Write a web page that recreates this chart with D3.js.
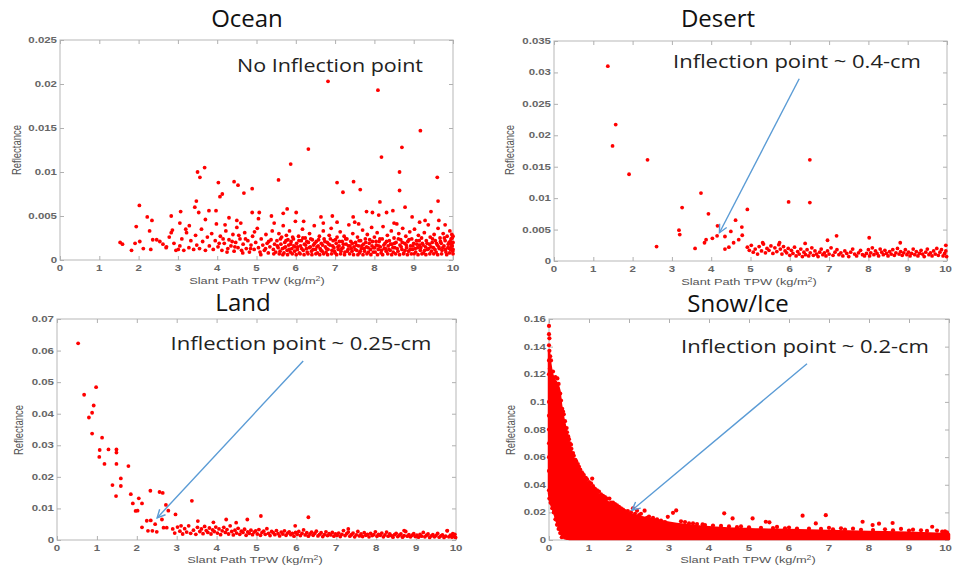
<!DOCTYPE html>
<html>
<head>
<meta charset="utf-8">
<script src="https://cdn.jsdelivr.net/npm/d3@7"></script>
<style>
html, body { margin: 0; padding: 0; background: #fff; }
svg { display: block; }
</style>
</head>
<body>
<svg id="chart" width="953" height="569"></svg>
<script>
// ---------- data: [slant path TPW (kg/m2), reflectance] ----------
const oceanPoints = [
  [6.82,.0203],[8.09,.0193],[9.17,.0147],[6.32,.0126],[8.70,.0128],[8.18,.0117],[5.87,.0109],[8.64,.0100],
  [9.60,.0094],[3.68,.0105],[3.50,.0100],[3.56,.0094],[4.03,.0088],[4.43,.0089],[4.53,.0085],[4.89,.0081],
  [4.68,.0076],[4.13,.0075],[4.07,.0072],[5.56,.0091],[7.05,.0088],[7.47,.0089],[7.20,.0077],[7.64,.0080],
  [8.64,.0079],[9.62,.0067],[8.14,.0066],[8.78,.0060],[2.02,.0062],[3.47,.0067],[3.43,.0060],[3.53,.0054],
  [3.79,.0056],[3.97,.0056],[2.83,.0050],[3.07,.0055],[4.89,.0054],[5.07,.0054],[5.38,.0050],[5.78,.0058],
  [5.68,.0053],[6.01,.0054],[6.64,.0049],[6.93,.0050],[7.80,.0055],[7.95,.0054],[8.11,.0051],[8.31,.0054],
  [8.47,.0056],[8.96,.0049],[9.44,.0055],[9.29,.0045],[9.64,.0045],[7.46,.0049],[2.22,.0049],[2.34,.0045],
  [1.94,.0038],[2.28,.0033],[2.83,.0031],[2.86,.0034],[3.05,.0042],[3.29,.0039],[1.53,.0020],[1.59,.0018],
  [1.82,.0011],[1.91,.0019],[2.03,.0021],[2.12,.0013],[2.31,.0012],[2.36,.0023],[2.46,.0023],[2.54,.0021],
  [2.62,.0018],[2.71,.0015],[3.01,.0012],[4.50,.0045],[5.05,.0047],[5.45,.0042],[6.20,.0044],[6.70,.0042],
  [7.05,.0043],[7.60,.0041],[8.50,.0042],[9.15,.0043],[9.80,.0040],[4.30,.0048],[3.70,.0046],[3.20,.0035],
  [2.70,.0014],[2.78,.0026],[2.90,.0019],[2.95,.0011],
  [3.05,.0016],[3.10,.0024],[3.15,.0011],[3.22,.0031],[3.28,.0014],[3.33,.0022],[3.40,.0012],[3.45,.0028],[3.48,.0017],
  [3.55,.0013],[3.60,.0035],[3.63,.0021],[3.70,.0011],[3.75,.0026],[3.80,.0016],[3.86,.0030],[3.90,.0012],[3.95,.0022],[3.98,.0041],
  [4.02,.0015],[4.08,.0027],[4.12,.0011],[4.18,.0019],[4.22,.0033],[4.27,.0013],[4.30,.0023],[4.35,.0016],[4.40,.0029],[4.43,.0010],[4.47,.0020],[4.50,.0037],
  [4.53,.0014],[4.58,.0024],[4.62,.0011],[4.66,.0018],[4.70,.0031],[4.74,.0013],[4.78,.0022],[4.82,.0009],[4.86,.0017],[4.90,.0027],[4.94,.0012],[4.98,.0020],
  [4.05,.0019],[4.15,.0024],[4.25,.0009],[4.38,.0021],[4.45,.0015],[4.55,.0028],[4.65,.0008],[4.72,.0024],[4.85,.0013],[4.95,.0032],[4.20,.0040],[4.60,.0042],
  [5.02,.0036],[5.05,.0014],[5.09,.0009],[5.12,.0024],[5.16,.0017],[5.20,.0011],[5.24,.0029],[5.27,.0019],[5.30,.0008],[5.34,.0015],[5.37,.0023],[5.40,.0033],[5.43,.0012],[5.46,.0018],[5.49,.0009],
  [5.52,.0022],[5.55,.0014],[5.57,.0030],[5.60,.0010],[5.62,.0018],[5.64,.0026],[5.66,.0013],[5.68,.0039],[5.70,.0008],[5.72,.0020],[5.74,.0015],[5.76,.0028],[5.78,.0011],[5.80,.0023],[5.82,.0017],[5.84,.0033],[5.86,.0009],[5.88,.0021],[5.90,.0013],[5.92,.0026],[5.95,.0016],[5.97,.0010],[5.99,.0044],
  [6.02,.0019],[6.04,.0012],[6.07,.0027],[6.09,.0008],[6.12,.0016],[6.14,.0022],[6.17,.0035],[6.19,.0011],[6.22,.0018],[6.24,.0025],[6.27,.0013],[6.29,.0009],[6.32,.0020],[6.35,.0030],[6.37,.0015],[6.40,.0010],[6.42,.0023],[6.45,.0017],[6.47,.0039],[6.50,.0012],
  [6.52,.0021],[6.55,.0008],[6.57,.0016],[6.60,.0027],[6.62,.0013],[6.65,.0019],[6.67,.0010],[6.70,.0033],[6.72,.0024],[6.75,.0015],[6.77,.0009],[6.80,.0020],[6.82,.0012],[6.85,.0028],[6.87,.0017],[6.90,.0036],[6.92,.0011],[6.95,.0022],[6.97,.0014],
  [7.00,.0008],[7.03,.0019],[7.05,.0026],[7.08,.0012],[7.10,.0016],[7.13,.0032],[7.15,.0010],[7.18,.0021],[7.20,.0014],[7.23,.0027],[7.25,.0009],[7.28,.0018],[7.30,.0024],[7.33,.0012],[7.35,.0040],[7.38,.0016],[7.40,.0021],[7.43,.0010],[7.45,.0030],[7.48,.0015],
  [7.50,.0043],[7.52,.0020],[7.55,.0011],[7.57,.0026],[7.60,.0016],[7.62,.0008],[7.65,.0022],[7.67,.0013],[7.70,.0034],[7.72,.0018],[7.75,.0010],[7.77,.0024],[7.80,.0015],[7.82,.0029],[7.85,.0009],[7.87,.0019],[7.90,.0012],[7.93,.0037],[7.95,.0021],[7.98,.0014],
  [8.00,.0026],[8.02,.0009],[8.05,.0017],[8.07,.0031],[8.10,.0012],[8.12,.0021],[8.15,.0015],[8.17,.0008],[8.20,.0024],[8.22,.0038],[8.25,.0013],[8.27,.0019],[8.30,.0010],[8.33,.0028],[8.35,.0016],[8.38,.0022],[8.40,.0011],[8.43,.0033],[8.45,.0018],[8.48,.0009],
  [8.50,.0025],[8.52,.0014],[8.55,.0020],[8.57,.0041],[8.60,.0010],[8.62,.0030],[8.65,.0017],[8.67,.0023],[8.70,.0012],[8.72,.0036],[8.75,.0008],[8.77,.0019],[8.80,.0027],[8.82,.0014],[8.85,.0021],[8.87,.0010],[8.90,.0032],[8.92,.0016],[8.95,.0024],[8.97,.0012],
  [9.00,.0019],[9.02,.0035],[9.05,.0009],[9.07,.0022],[9.10,.0014],[9.12,.0028],[9.15,.0017],[9.17,.0011],[9.20,.0025],[9.22,.0019],[9.25,.0008],[9.27,.0031],[9.30,.0015],[9.32,.0022],[9.35,.0012],[9.37,.0040],[9.40,.0018],[9.42,.0026],[9.45,.0010],[9.47,.0020],
  [9.50,.0014],[9.52,.0029],[9.55,.0022],[9.57,.0009],[9.60,.0017],[9.62,.0036],[9.65,.0013],[9.67,.0025],[9.70,.0019],[9.72,.0011],[9.75,.0030],[9.77,.0016],[9.80,.0022],[9.82,.0009],[9.85,.0027],[9.87,.0014],[9.90,.0020],[9.92,.0033],[9.94,.0012],[9.96,.0018],[9.98,.0025],[9.99,.0010],[9.97,.0029],[9.95,.0015],[9.93,.0021],[9.91,.0008],
  [5.11,.0006],[5.23,.0013],[5.31,.0021],[5.44,.0007],[5.53,.0016],[5.58,.0007],[5.61,.0024],[5.67,.0006],[5.71,.0014],[5.75,.0022],[5.79,.0006],[5.83,.0012],[5.87,.0018],[5.91,.0007],[5.94,.0024],[5.98,.0015],
  [6.01,.0006],[6.05,.0015],[6.08,.0022],[6.11,.0007],[6.15,.0013],[6.18,.0025],[6.21,.0006],[6.25,.0017],[6.28,.0021],[6.31,.0007],[6.34,.0014],[6.38,.0024],[6.41,.0006],[6.44,.0012],[6.48,.0019],
  [6.51,.0007],[6.54,.0015],[6.58,.0023],[6.61,.0006],[6.64,.0011],[6.68,.0017],[6.71,.0007],[6.74,.0021],[6.78,.0013],[6.81,.0006],[6.84,.0018],[6.88,.0024],[6.91,.0007],[6.94,.0016],[6.98,.0010],
  [7.01,.0023],[7.04,.0006],[7.07,.0015],[7.11,.0021],[7.14,.0007],[7.17,.0013],[7.21,.0018],[7.24,.0006],[7.27,.0024],[7.31,.0010],[7.34,.0016],[7.37,.0007],[7.41,.0013],[7.44,.0019],[7.47,.0006],
  [7.51,.0012],[7.54,.0017],[7.58,.0006],[7.61,.0022],[7.64,.0010],[7.68,.0016],[7.71,.0006],[7.74,.0013],[7.78,.0020],[7.81,.0007],[7.84,.0014],[7.88,.0023],[7.91,.0006],[7.94,.0016],[7.97,.0009],
  [8.01,.0014],[8.04,.0021],[8.08,.0006],[8.11,.0016],[8.14,.0024],[8.18,.0011],[8.21,.0006],[8.24,.0017],[8.28,.0013],[8.31,.0021],[8.34,.0007],[8.37,.0012],[8.41,.0018],[8.44,.0006],[8.47,.0014],
  [8.51,.0019],[8.54,.0007],[8.58,.0013],[8.61,.0024],[8.64,.0006],[8.68,.0015],[8.71,.0020],[8.74,.0007],[8.78,.0011],[8.81,.0017],[8.84,.0006],[8.88,.0023],[8.91,.0012],[8.94,.0007],[8.98,.0016],
  [9.01,.0007],[9.04,.0013],[9.08,.0018],[9.11,.0006],[9.14,.0022],[9.18,.0014],[9.21,.0007],[9.24,.0017],[9.28,.0011],[9.31,.0006],[9.34,.0019],[9.38,.0013],[9.41,.0007],[9.44,.0015],[9.48,.0024],
  [9.51,.0007],[9.54,.0012],[9.58,.0019],[9.61,.0006],[9.64,.0015],[9.68,.0021],[9.71,.0007],[9.74,.0014],[9.78,.0025],[9.81,.0012],[9.84,.0006],[9.88,.0018],[9.91,.0013],[9.95,.0024],[9.98,.0016],
  [10.0,.0012],[10.0,.0020],[10.0,.0027],[10.0,.0007]
];

const desertPoints = [
  [1.37,.0310],[1.57,.0217],[1.49,.0183],[2.38,.0161],[1.91,.0138],[6.51,.0161],[3.74,.0108],[5.97,.0094],
  [6.51,.0093],[3.26,.0085],[4.92,.0082],[3.93,.0075],[4.62,.0065],[4.16,.0056],[4.78,.0054],[3.18,.0049],
  [3.20,.0042],[4.50,.0047],[4.35,.0039],[4.79,.0041],[4.15,.0040],[4.03,.0036],[3.87,.0034],[3.83,.0029],
  [4.70,.0034],[4.57,.0029],[4.45,.0022],[4.35,.0019],[3.59,.0020],[2.61,.0023],[6.96,.0033],[7.19,.0040],
  [8.02,.0037],[8.81,.0029],[5.74,.0029],[6.39,.0028],[5.31,.0029],[9.97,.0025],
  [4.92,.0022],[4.97,.0017],[5.02,.0025],[5.07,.0014],[5.12,.0019],[5.18,.0011],[5.22,.0023],[5.28,.0016],[5.33,.0027],[5.38,.0013],
  [5.42,.0020],[5.47,.0017],[5.52,.0024],[5.57,.0012],[5.62,.0021],[5.67,.0015],[5.72,.0026],[5.76,.0019],[5.80,.0011],[5.84,.0023],
  [5.88,.0016],[5.92,.0013],[5.96,.0020],[6.00,.0009],[6.04,.0017],[6.08,.0012],[6.12,.0022],[6.16,.0008],[6.20,.0015],[6.24,.0011],
  [6.28,.0019],[6.32,.0007],[6.36,.0014],[6.40,.0010],[6.44,.0018],[6.48,.0008],[6.52,.0013],[6.56,.0021],[6.60,.0009],[6.64,.0016],
  [6.68,.0011],[6.72,.0007],[6.76,.0014],[6.80,.0019],[6.84,.0010],[6.88,.0013],[6.92,.0008],[6.96,.0016],[7.00,.0011],[7.05,.0021],
  [7.10,.0009],[7.15,.0014],[7.20,.0018],[7.25,.0010],[7.30,.0013],[7.35,.0008],[7.40,.0016],[7.45,.0012],[7.50,.0007],[7.55,.0014],
  [7.60,.0019],[7.65,.0011],[7.70,.0008],[7.75,.0013],[7.80,.0017],[7.85,.0010],[7.90,.0008],[7.95,.0012],[8.00,.0018],[8.03,.0008],
  [8.06,.0013],[8.10,.0021],[8.14,.0010],[8.18,.0016],[8.22,.0012],[8.26,.0008],[8.30,.0019],[8.34,.0014],[8.38,.0010],[8.42,.0017],
  [8.46,.0012],[8.50,.0008],[8.54,.0015],[8.58,.0011],[8.62,.0018],[8.66,.0009],[8.70,.0013],[8.74,.0020],[8.78,.0011],[8.82,.0015],
  [8.86,.0009],[8.90,.0013],[8.94,.0018],[8.98,.0010],[9.02,.0014],[9.06,.0008],[9.10,.0012],[9.14,.0019],[9.18,.0010],[9.22,.0015],
  [9.26,.0008],[9.30,.0012],[9.34,.0017],[9.38,.0011],[9.42,.0007],[9.46,.0014],[9.50,.0019],[9.54,.0010],[9.58,.0013],[9.62,.0008],
  [9.66,.0016],[9.70,.0011],[9.74,.0020],[9.78,.0009],[9.82,.0014],[9.86,.0018],[9.90,.0008],[9.94,.0012],[9.97,.0016],[9.99,.0007]
];

const landPoints = [
  [0.53,.0623],[0.98,.0484],[0.68,.0460],[0.92,.0426],[0.88,.0403],[0.80,.0388],[0.88,.0337],[1.13,.0324],
  [1.07,.0285],[1.29,.0287],[1.49,.0287],[1.49,.0277],[1.06,.0263],[1.19,.0241],[1.49,.0241],[1.79,.0234],
  [1.60,.0195],[1.60,.0171],[1.39,.0174],[1.48,.0139],[1.85,.0145],[1.90,.0116],[2.05,.0132],[2.13,.0116],
  [2.02,.0093],[1.97,.0092],[2.34,.0156],[2.57,.0152],[2.65,.0149],[3.38,.0124],[2.73,.0111],[2.79,.0093],
  [2.97,.0081],[2.63,.0065],[2.25,.0061],[2.35,.0062],[2.13,.0040],[2.46,.0050],[2.28,.0029],[2.39,.0029],
  [2.50,.0026],[2.67,.0039],[2.75,.0039],[3.11,.0045],[6.30,.0072],[5.11,.0076],[4.77,.0065],[4.24,.0065],
  [3.53,.0060],[3.92,.0056],[4.49,.0055],[5.97,.0045],[7.30,.0035],[8.70,.0030],[9.78,.0030],
  [2.90,.0035],[2.95,.0022],[3.02,.0041],[3.08,.0028],[3.15,.0019],[3.20,.0036],[3.25,.0025],[3.30,.0045],[3.35,.0021],[3.42,.0031],
  [3.48,.0018],[3.52,.0040],[3.58,.0027],[3.62,.0035],[3.66,.0020],[3.70,.0043],[3.74,.0030],[3.78,.0024],[3.82,.0038],[3.86,.0019],
  [3.90,.0032],[3.94,.0027],[3.98,.0041],
  [4.02,.0022],[4.06,.0035],[4.10,.0017],[4.14,.0029],[4.18,.0040],[4.22,.0024],[4.26,.0033],[4.30,.0019],[4.34,.0045],[4.38,.0027],
  [4.42,.0016],[4.46,.0031],[4.50,.0022],[4.54,.0037],[4.58,.0018],[4.62,.0028],[4.66,.0024],[4.70,.0034],[4.74,.0015],[4.78,.0026],
  [4.82,.0021],[4.86,.0031],[4.90,.0017],[4.94,.0025],[4.98,.0029],
  [5.02,.0019],[5.06,.0033],[5.10,.0015],[5.14,.0024],[5.18,.0028],[5.22,.0018],[5.26,.0036],[5.30,.0021],[5.34,.0014],[5.38,.0027],
  [5.42,.0023],[5.46,.0017],[5.50,.0030],[5.54,.0020],[5.58,.0013],[5.62,.0025],[5.66,.0019],[5.70,.0029],[5.74,.0015],[5.78,.0022],
  [5.82,.0026],[5.86,.0017],[5.90,.0021],[5.94,.0012],[5.98,.0024],
  [6.02,.0018],[6.06,.0027],[6.10,.0014],[6.14,.0021],[6.18,.0032],[6.22,.0016],[6.26,.0023],[6.30,.0012],[6.34,.0019],[6.38,.0025],
  [6.42,.0015],[6.46,.0021],[6.50,.0028],[6.54,.0013],[6.58,.0018],[6.62,.0023],[6.66,.0011],[6.70,.0017],[6.74,.0026],[6.78,.0014],
  [6.82,.0020],[6.86,.0016],[6.90,.0024],[6.94,.0012],[6.98,.0019],
  [7.02,.0015],[7.06,.0022],[7.10,.0011],[7.14,.0018],[7.18,.0030],[7.22,.0014],[7.26,.0020],[7.30,.0025],[7.34,.0012],[7.38,.0017],
  [7.42,.0022],[7.46,.0010],[7.50,.0016],[7.54,.0027],[7.58,.0013],[7.62,.0019],[7.66,.0011],[7.70,.0023],[7.74,.0015],[7.78,.0018],
  [7.82,.0010],[7.86,.0021],[7.90,.0014],[7.94,.0017],[7.98,.0026],
  [8.02,.0012],[8.06,.0018],[8.10,.0015],[8.14,.0022],[8.18,.0010],[8.22,.0016],[8.26,.0025],[8.30,.0012],[8.34,.0019],[8.38,.0014],
  [8.42,.0009],[8.46,.0017],[8.50,.0021],[8.54,.0011],[8.58,.0015],[8.62,.0019],[8.66,.0009],[8.70,.0014],[8.74,.0027],[8.78,.0012],
  [8.82,.0017],[8.86,.0010],[8.90,.0015],[8.94,.0020],[8.98,.0011],
  [9.02,.0015],[9.06,.0009],[9.10,.0018],[9.14,.0012],[9.18,.0024],[9.22,.0010],[9.26,.0015],[9.30,.0019],[9.34,.0008],[9.38,.0013],
  [9.42,.0017],[9.46,.0010],[9.50,.0014],[9.54,.0021],[9.58,.0009],[9.62,.0013],[9.66,.0016],[9.70,.0008],[9.74,.0012],[9.78,.0029],
  [9.82,.0010],[9.86,.0015],[9.90,.0009],[9.94,.0013],[9.97,.0018],[9.99,.0008],[9.96,.0011],[9.92,.0020]
];

// Snow/Ice: the densest cloud is given by its envelope, the sparser points individually
const snowCoreX      = [0, 0.03, 0.08, 0.14, 0.2, 0.26, 0.3, 0.36, 0.42, 0.5, 0.6, 0.7, 0.8, 0.9, 1.0, 1.2, 1.4, 1.6, 1.8, 2.0, 2.5, 3.0, 4.0, 5.0, 6.0, 7.0, 8.0, 9.0, 10.0];
const snowCoreTop    = [.136, .128, .120, .116, .113, .108, .098, .088, .080, .070, .060, .053, .047, .043, .040, .034, .029, .025, .022, .019, .0155, .0125, .0092, .0078, .0072, .0066, .0058, .0052, .0042];
const snowCoreBottom = [.034, .028, .024, .019, .013, .009, .005, .002, .001, .0008, .0007, .0007, .0007, .0007, .0007, .0007, .0007, .0007, .0007, .0007, .0007, .0007, .0007, .0007, .0007, .0007, .0007, .0007, .0007];
const snowPoints = [
  [0.00,.155],[0.00,.149],[0.01,.146],[0.00,.141],[0.01,.137],[0.03,.133],[0.05,.130],[0.02,.124],[0.10,.122],[0.16,.118],
  [0.21,.117],[0.24,.113],[0.19,.110],[0.28,.106],[0.30,.101],[0.33,.095],[0.37,.091],[0.40,.086],[0.44,.081],[0.48,.075],
  [0.52,.070],[0.56,.066],[0.60,.063],[0.66,.058],[0.72,.055],[0.78,.051],[0.84,.048],[0.87,.047],[0.92,.045],[1.08,.0445],
  [1.00,.042],[1.10,.039],[1.20,.036],[1.30,.033],[1.40,.031],[1.51,.030],[1.60,.027],[1.70,.025],[1.80,.023],[1.90,.021],
  [1.97,.021],[2.10,.0229],[2.20,.0212],[2.39,.0212],[2.30,.019],[2.50,.017],[2.70,.015],[2.97,.0168],[3.10,.0197],[3.18,.0214],
  [3.40,.013],[3.60,.012],[3.84,.0113],[4.10,.0105],[4.38,.0193],[4.59,.0156],[4.80,.0098],[5.09,.0156],[5.42,.0132],[5.51,.0128],
  [5.70,.0095],[6.00,.0090],[6.34,.0176],[6.67,.012],[6.92,.018],[7.00,.0088],[7.30,.0085],[7.60,.0082],[7.84,.0132],[8.09,.0108],
  [8.25,.0118],[8.59,.0123],[8.40,.0078],[8.80,.0080],[9.10,.0075],[9.30,.0070],[9.58,.0096],[9.70,.0068],[9.83,.006],[9.95,.0055],
  [0.00,.036],[0.01,.030],[0.04,.027],[0.08,.023],[0.12,.020],[0.16,.015],[0.20,.011],[0.24,.008],[0.28,.005],[0.32,.002],
  [0.00,.10],[0.00,.09],[0.00,.08],[0.00,.07],[0.00,.06],[0.00,.05],[0.00,.12],[0.00,.13],
  [0.35,.093],[0.45,.078],[0.50,.073],[0.55,.069],[0.62,.061],[0.68,.057],[0.75,.053],[0.82,.049],[0.95,.044],[1.05,.041],
  [1.15,.037],[1.25,.035],[1.35,.032],[1.45,.030],[1.55,.027],[1.65,.026],[1.75,.024],[1.85,.022],[2.05,.020],[2.15,.019],
  [2.25,.018],[2.45,.016],[2.60,.016],[2.80,.014],[2.90,.013],[3.30,.0135],[3.50,.012],[3.70,.0115],[3.90,.0108],[4.30,.0102],
  [4.50,.0098],[4.70,.0093],[5.00,.0092],[5.30,.0088],[5.60,.0087],[5.90,.0085],[6.20,.0083],[6.50,.0082],[6.80,.0080],[7.10,.0078],
  [7.40,.0076],[7.80,.0074],[8.10,.0072],[8.60,.0070],[9.00,.0068],[9.45,.0066],[9.90,.0062]
];

const panelTitles = ["Ocean", "Desert", "Land", "Snow/Ice"];
const panelNotes = ["No Inflection point", "Inflection point ~ 0.4-cm", "Inflection point ~ 0.25-cm", "Inflection point ~ 0.2-cm"];
const xTickValues = [0, 1, 2, 3, 4, 5, 6, 7, 8, 9, 10];
const oceanYTicks  = [0, 0.005, 0.01, 0.015, 0.02, 0.025];
const desertYTicks = [0, 0.005, 0.01, 0.015, 0.02, 0.025, 0.03, 0.035];
const landYTicks   = [0, 0.01, 0.02, 0.03, 0.04, 0.05, 0.06, 0.07];
const snowYTicks   = [0, 0.02, 0.04, 0.06, 0.08, 0.1, 0.12, 0.14, 0.16];
// arrows: [tail, head] in data units
const desertArrow = [[6.24, .0290], [4.21, .0045]];
const landArrow   = [[6.17, .0567], [2.51, .0070]];
const snowArrow   = [[6.45, .1276], [2.075, .0216]];

// ---------- layout ----------
const W = 953;
const svg = d3.select("#chart");
const RED = "#ff0000";
const BLUE = "#5a9bd5";
const STRETCH = 1.35;   // the small axis text is drawn horizontally widened

svg.append("defs").append("marker")
  .attr("id", "arrowHead")
  .attr("viewBox", "-10 -6 12 12")
  .attr("markerWidth", 12).attr("markerHeight", 12)
  .attr("markerUnits", "userSpaceOnUse")
  .attr("orient", "auto")
  .append("path")
  .attr("d", "M-8,-4 L0,0 L-8,4")
  .attr("fill", "none").attr("stroke", BLUE).attr("stroke-width", 1.4);

const panels = [
  { title: panelTitles[0], note: panelNotes[0], pts: oceanPoints,  yTicks: oceanYTicks,  arrow: null,
    x0: 60,  x1: 453, yb: 260, yt: 40,  titleXY: [247, 27], noteXY: [330, 72], noteW: 186, ylabXY: [21, 150], xlabXY: [257, 284] },
  { title: panelTitles[1], note: panelNotes[1], pts: desertPoints, yTicks: desertYTicks, arrow: desertArrow,
    x0: 554, x1: 947, yb: 261, yt: 41,  titleXY: [718, 27], noteXY: [797, 68], noteW: 248, ylabXY: [514, 150], xlabXY: [749, 285] },
  { title: panelTitles[2], note: panelNotes[2], pts: landPoints,   yTicks: landYTicks,   arrow: landArrow,
    x0: 57,  x1: 456, yb: 540, yt: 319, titleXY: [243, 311], noteXY: [301, 350], noteW: 261, ylabXY: [23, 430], xlabXY: [255, 563] },
  { title: panelTitles[3], note: panelNotes[3], pts: snowPoints,   yTicks: snowYTicks,   arrow: snowArrow,
    x0: 549, x1: 949, yb: 540, yt: 319, titleXY: [738, 312], noteXY: [805, 353], noteW: 248, ylabXY: [515, 430], xlabXY: [748, 563], core: true }
];

function stretchedText(g, x, y, anchor, size, fill, txt, rotate) {
  const t = g.append("text")
    .attr("transform", `translate(${x},${y}) scale(${STRETCH},1)` + (rotate ? " rotate(-90)" : ""))
    .attr("text-anchor", anchor)
    .attr("font-family", "Liberation Sans, Arial, sans-serif")
    .attr("font-size", size)
    .attr("fill", fill);
  return t.text(txt);
}

panels.forEach(p => {
  const g = svg.append("g");
  const x = d3.scaleLinear().domain([0, 10]).range([p.x0, p.x1]);
  const y = d3.scaleLinear().domain([0, p.yTicks[p.yTicks.length - 1]]).range([p.yb, p.yt]);

  // frame
  g.append("rect")
    .attr("x", p.x0).attr("y", p.yt)
    .attr("width", p.x1 - p.x0).attr("height", p.yb - p.yt)
    .attr("fill", "#fff").attr("stroke", "#c4c4c4").attr("stroke-width", 1.2);

  // inward ticks on all four sides
  const axStyle = sel => {
    sel.select(".domain").remove();
    sel.selectAll(".tick line").attr("stroke", "#b0b0b0").attr("stroke-width", 1);
  };
  g.append("g").attr("transform", `translate(0,${p.yb})`)
    .call(d3.axisBottom(x).tickValues(xTickValues).tickSizeInner(-4).tickSizeOuter(0).tickFormat(""))
    .call(axStyle);
  g.append("g").attr("transform", `translate(0,${p.yt})`)
    .call(d3.axisTop(x).tickValues(xTickValues).tickSizeInner(-4).tickSizeOuter(0).tickFormat(""))
    .call(axStyle);
  g.append("g").attr("transform", `translate(${p.x0},0)`)
    .call(d3.axisLeft(y).tickValues(p.yTicks).tickSizeInner(-4).tickSizeOuter(0).tickFormat(""))
    .call(axStyle);
  g.append("g").attr("transform", `translate(${p.x1},0)`)
    .call(d3.axisRight(y).tickValues(p.yTicks).tickSizeInner(-4).tickSizeOuter(0).tickFormat(""))
    .call(axStyle);

  // tick labels (kept inside the page at the right edge)
  const lab = g.append("g").attr("font-weight", "bold");
  xTickValues.forEach(v => {
    const t = stretchedText(lab, x(v), p.yb + 10.5, "middle", 8.5, "#666", String(v));
    const half = t.node().getComputedTextLength() * STRETCH / 2;
    if (x(v) + half > W - 1) {
      t.attr("transform", `translate(${W - 1},${p.yb + 10.5}) scale(${STRETCH},1)`).attr("text-anchor", "end");
    }
  });
  p.yTicks.forEach(v => stretchedText(lab, p.x0 - 3, y(v) + 3, "end", 8.5, "#666", String(v)));

  // axis titles
  stretchedText(g, p.ylabXY[0], p.ylabXY[1], "middle", 9.5, "#555", "Reflectance", true);
  const xl = stretchedText(g, p.xlabXY[0], p.xlabXY[1], "middle", 9.5, "#555", "Slant Path TPW (kg/m");
  xl.append("tspan").attr("dy", -3.5).attr("font-size", 6.5).text("2");
  xl.append("tspan").attr("dy", 3.5).text(")");

  // dense cloud (Snow/Ice)
  if (p.core) {
    const core = snowCoreX.map((v, i) => ({ x: v, lo: snowCoreBottom[i], hi: snowCoreTop[i] }));
    g.append("path")
      .datum(core)
      .attr("d", d3.area().x(d => x(d.x)).y0(d => y(d.lo)).y1(d => y(d.hi)).curve(d3.curveMonotoneX))
      .attr("fill", RED).attr("stroke", RED).attr("stroke-width", 2.5).attr("stroke-linejoin", "round");
  }

  // scatter points
  g.append("g").selectAll("circle")
    .data(p.pts).join("circle")
    .attr("cx", d => x(d[0])).attr("cy", d => y(d[1]))
    .attr("r", p.core ? 2.1 : 1.9)
    .attr("fill", RED);

  // panel title
  svg.append("text")
    .attr("x", p.titleXY[0]).attr("y", p.titleXY[1])
    .attr("text-anchor", "middle")
    .attr("font-family", "Open Sans, Noto Sans, sans-serif")
    .attr("font-size", 24).attr("fill", "#111")
    .text(p.title);

  // annotation text
  svg.append("text")
    .attr("x", p.noteXY[0]).attr("y", p.noteXY[1])
    .attr("text-anchor", "middle")
    .attr("font-family", "Open Sans, Noto Sans, sans-serif")
    .attr("font-size", 18.5).attr("fill", "#222")
    .attr("textLength", p.noteW).attr("lengthAdjust", "spacingAndGlyphs")
    .text(p.note);

  // arrow pointing to the inflection point
  if (p.arrow) {
    g.append("line")
      .attr("x1", x(p.arrow[0][0])).attr("y1", y(p.arrow[0][1]))
      .attr("x2", x(p.arrow[1][0])).attr("y2", y(p.arrow[1][1]))
      .attr("stroke", BLUE).attr("stroke-width", 1.4)
      .attr("marker-end", "url(#arrowHead)");
  }
});
</script>
</body>
</html>
